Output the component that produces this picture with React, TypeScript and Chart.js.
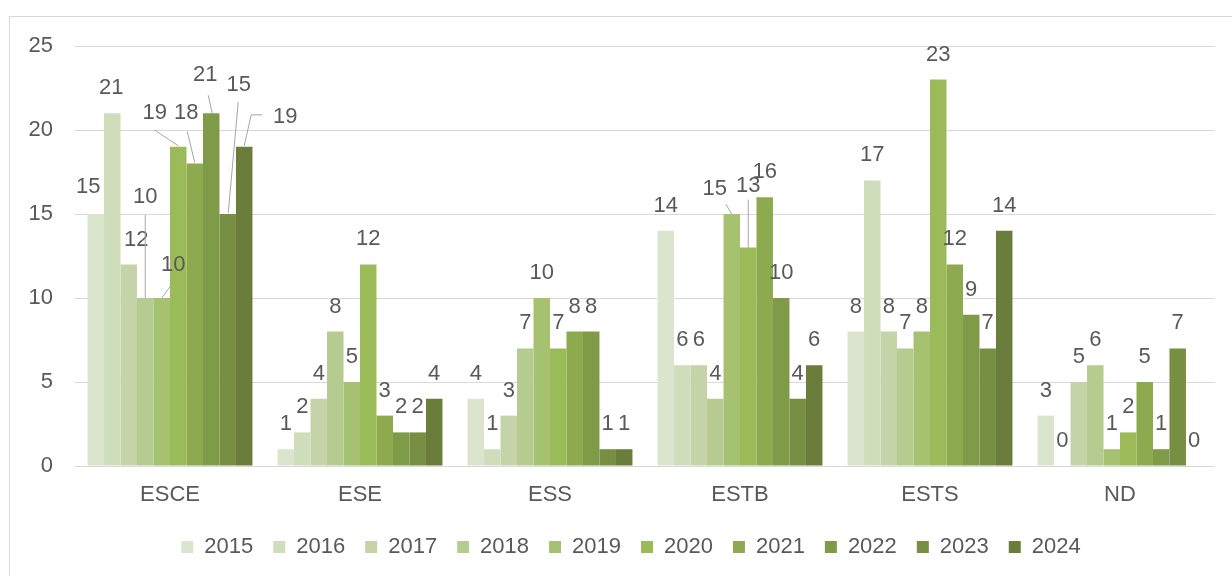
import React, { useEffect, useRef } from 'react';
import { Chart, registerables } from 'chart.js';

Chart.register(...registerables);

const categories = ['ESCE', 'ESE', 'ESS', 'ESTB', 'ESTS', 'ND'];
const years = ['2015', '2016', '2017', '2018', '2019', '2020', '2021', '2022', '2023', '2024'];

const v2015 = [15, 1, 4, 14, 8, 3];
const v2016 = [21, 2, 1, 6, 17, 0];
const v2017 = [12, 4, 3, 6, 8, 5];
const v2018 = [10, 8, 7, 4, 7, 6];
const v2019 = [10, 5, 10, 15, 8, 1];
const v2020 = [19, 12, 7, 13, 23, 2];
const v2021 = [18, 3, 8, 16, 12, 5];
const v2022 = [21, 2, 8, 10, 9, 1];
const v2023 = [15, 2, 1, 4, 7, 7];
const v2024 = [19, 4, 1, 6, 14, 0];

const seriesValues = [v2015, v2016, v2017, v2018, v2019, v2020, v2021, v2022, v2023, v2024];

const yTickValues = [0, 5, 10, 15, 20, 25];

const palette = [
  '#dbe5cd', '#d0ddbb', '#c4d4a8', '#b6cb8f', '#a6c270',
  '#9bbb59', '#8daa4f', '#7f9b48', '#778f42', '#6a7d3a',
];

const FONT_FAMILY = "'Liberation Sans', Arial, sans-serif";
const TEXT_COLOR = '#595959';
const GRID_COLOR = '#d9d9d9';
const LEADER_COLOR = '#a6a6a6';
const DEFAULT_LABEL_DY = -25;
const LEGEND_SHIFT_X = 23.5;

// Label placement tweaks (style only): offsets of label centre from bar-top centre,
// plus optional leader polyline points (relative to bar-top centre).
type LabelTweak = { dx: number; dy: number; leader?: [number, number][] };
const labelTweaks: Record<string, LabelTweak> = {
  'ESCE|2015': { dx: -7.5, dy: -27 },
  'ESCE|2016': { dx: -1, dy: -25 },
  'ESCE|2017': { dx: 7.5, dy: -24 },
  'ESCE|2018': { dx: 0, dy: -101, leader: [[0, 0], [0, -83]] },
  'ESCE|2019': { dx: 11.5, dy: -33, leader: [[0, 0], [11, -15]] },
  'ESCE|2020': { dx: -23.5, dy: -34, leader: [[0, -1], [-24, -17]] },
  'ESCE|2021': { dx: -8.5, dy: -51, leader: [[0, -1], [-7.5, -32]] },
  'ESCE|2022': { dx: -6, dy: -38, leader: [[1, 0], [-3, -18]] },
  'ESCE|2023': { dx: 11, dy: -129, leader: [[0.5, -1], [10.5, -112]] },
  'ESCE|2024': { dx: 41, dy: -30, leader: [[0, -1], [7, -32], [18, -32]] },
  'ESTB|2019': { dx: -17, dy: -25, leader: [[0, 0], [-6, -10]] },
  'ESTB|2020': { dx: 0, dy: -62, leader: [[0, 0], [0, -48]] },
};

const borderPlugin = {
  id: 'outerBorder',
  beforeDraw(chart: any) {
    const { ctx, width, height } = chart;
    ctx.save();
    ctx.fillStyle = '#ffffff';
    ctx.fillRect(0, 0, width, height);
    ctx.strokeStyle = GRID_COLOR;
    ctx.lineWidth = 1;
    ctx.strokeRect(9.5, 16.5, width + 20, height + 20);
    ctx.restore();
  },
};

const legendShiftPlugin = {
  id: 'legendShift',
  afterLayout(chart: any) {
    const lg = chart.legend;
    if (lg) {
      lg.left += LEGEND_SHIFT_X;
      lg.right += LEGEND_SHIFT_X;
    }
  },
};

const valueLabelPlugin = {
  id: 'valueLabels',
  afterDatasetsDraw(chart: any) {
    const { ctx } = chart;
    ctx.save();
    ctx.font = `22px ${FONT_FAMILY}`;
    ctx.fillStyle = TEXT_COLOR;
    ctx.textAlign = 'center';
    ctx.textBaseline = 'middle';
    chart.data.datasets.forEach((ds: any, di: number) => {
      const meta = chart.getDatasetMeta(di);
      meta.data.forEach((bar: any, i: number) => {
        const key = `${categories[i]}|${ds.label}`;
        const tweak = labelTweaks[key];
        const bx = bar.x;
        const by = bar.y;
        const dx = tweak ? tweak.dx : 0;
        const dy = tweak ? tweak.dy : DEFAULT_LABEL_DY;
        if (tweak && tweak.leader) {
          ctx.beginPath();
          ctx.strokeStyle = LEADER_COLOR;
          ctx.lineWidth = 1;
          tweak.leader.forEach((p, k) => {
            const px = bx + p[0];
            const py = by + p[1];
            if (k === 0) ctx.moveTo(px, py);
            else ctx.lineTo(px, py);
          });
          ctx.stroke();
        }
        ctx.fillText(String(ds.data[i]), bx + dx, by + dy);
      });
    });
    ctx.restore();
  },
};

export default function App() {
  const canvasRef = useRef<HTMLCanvasElement | null>(null);

  useEffect(() => {
    document.body.style.margin = '0';
    const canvas = canvasRef.current;
    if (!canvas) return;
    const chart = new Chart(canvas, {
      type: 'bar',
      data: {
        labels: categories,
        datasets: years.map((y, i) => ({
          label: y,
          data: seriesValues[i],
          backgroundColor: palette[i],
          borderWidth: 0,
          categoryPercentage: 0.868,
          barPercentage: 1,
        })),
      },
      options: {
        responsive: false,
        animation: false,
        devicePixelRatio: 1,
        layout: { padding: { left: 0, right: 17, top: 46, bottom: 8 } },
        plugins: {
          tooltip: { enabled: false },
          legend: {
            position: 'bottom',
            labels: {
              boxWidth: 12,
              boxHeight: 12,
              padding: 20,
              color: TEXT_COLOR,
              font: { size: 22, family: FONT_FAMILY },
              generateLabels(chart: any) {
                const items = Chart.defaults.plugins.legend.labels.generateLabels(chart);
                return items.map((it: any) => ({ ...it, lineWidth: 0 }));
              },
            },
          },
        },
        scales: {
          x: {
            grid: { display: false },
            border: { display: false },
            ticks: {
              color: TEXT_COLOR,
              font: { size: 22, family: FONT_FAMILY },
              padding: 8,
            },
            afterFit(scale: any) {
              scale.height = 50;
            },
          },
          y: {
            min: 0,
            max: 25,
            border: { display: false },
            grid: { color: GRID_COLOR, lineWidth: 1, drawTicks: false },
            afterBuildTicks(scale: any) {
              scale.ticks = yTickValues.map((v) => ({ value: v }));
            },
            ticks: {
              color: TEXT_COLOR,
              font: { size: 22, family: FONT_FAMILY },
              padding: 22,
            },
            afterFit(scale: any) {
              scale.width = 75;
            },
          },
        },
      },
      plugins: [borderPlugin, legendShiftPlugin, valueLabelPlugin],
    });
    return () => chart.destroy();
  }, []);

  return (
    <div style={{ position: 'fixed', left: 0, top: 0, width: 1232, height: 576, background: '#fff' }}>
      <canvas ref={canvasRef} width={1232} height={576} />
    </div>
  );
}
